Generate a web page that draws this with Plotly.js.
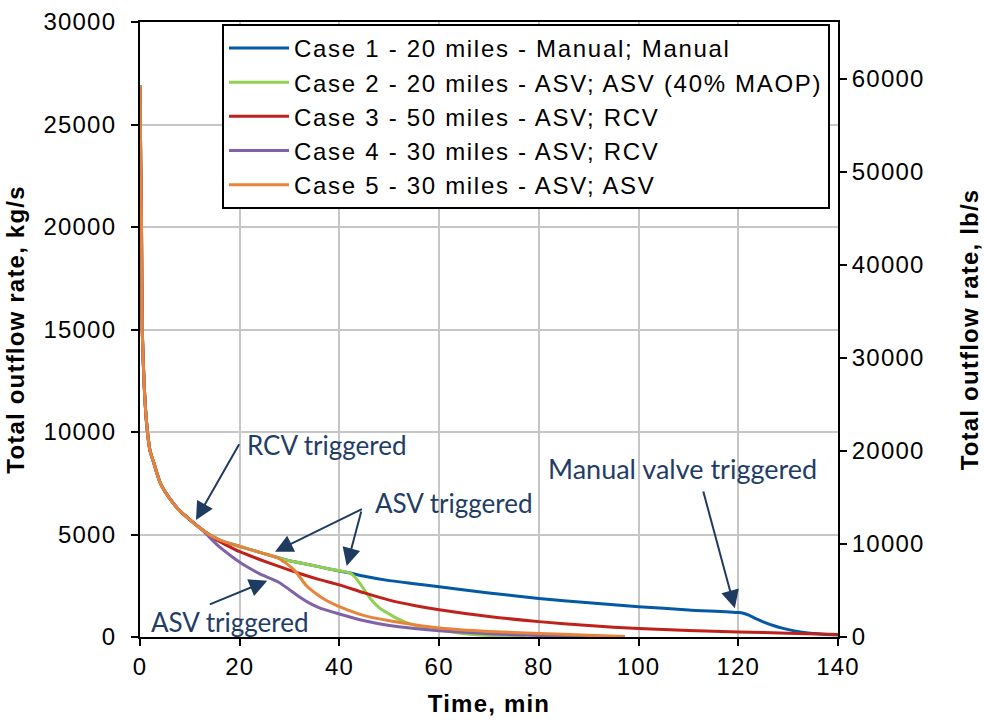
<!DOCTYPE html>
<html>
<head>
<meta charset="utf-8">
<script src="https://cdn.plot.ly/plotly-3.0.1.min.js"></script>
<style>
html,body{margin:0;padding:0;background:#fff;}
#chart{width:985px;height:721px;}
.xtick text, .ytick text, .y2tick text, .xtitle, .ytitle, .y2title {letter-spacing:1.2px;}
.legendtext {letter-spacing:1.7px;}
</style>
</head>
<body>
<div id="chart"></div>
<script>
// ---- data (time in min, outflow in kg/s) ----
const seriesNames = [
  "Case 1 - 20 miles - Manual; Manual",
  "Case 2 - 20 miles - ASV; ASV (40% MAOP)",
  "Case 3 - 50 miles - ASV; RCV",
  "Case 4 - 30 miles - ASV; RCV",
  "Case 5 - 30 miles - ASV; ASV"
];
const seriesColors = ["#0459A6", "#92D050", "#C0211A", "#8062A8", "#E8843A"];

// shared initial blowdown
const tCommon = [0, 0.15, 0.3, 0.45, 0.8, 1.3, 2, 2.7, 4, 5, 6.7, 8, 9.4, 11, 12.5];
const vCommon = [26900, 23000, 20000, 15000, 12500, 10500, 9100, 8550, 7550, 7100, 6520, 6150, 5850, 5520, 5230];

// shared upper branch (cases 1, 2, 5)
const tUpper = [14, 16, 20, 24, 27.5];
const vUpper = [4980, 4730, 4420, 4130, 3880];

// cases 1 and 2 together until ~42 min
const tMid = [30, 34, 38, 42.2];
const vMid = [3720, 3520, 3320, 3120];

const tCase1Tail = [45, 50, 55, 60, 70, 80, 90, 100, 110, 120, 121, 122, 123.5, 125, 127, 129, 131, 134, 137, 140];
const vCase1Tail = [2960, 2750, 2600, 2450, 2150, 1880, 1670, 1480, 1320, 1190, 1160, 1080, 900, 740, 560, 420, 310, 200, 140, 100];

const tCase2Tail = [43, 44.1, 45, 46.1, 48.1, 50, 51.5, 54.8, 60, 64, 68.2, 72, 77.2];
const vCase2Tail = [2950, 2620, 2300, 1900, 1400, 1120, 910, 590, 340, 200, 100, 50, 0];

const tCase3Tail = [14, 16, 20, 24, 28, 32, 36, 40, 45, 50, 55, 60, 70, 80, 90, 100, 110, 120, 130, 140];
const vCase3Tail = [4900, 4650, 4160, 3780, 3430, 3100, 2800, 2540, 2150, 1800, 1540, 1330, 1000, 750, 560, 410, 320, 250, 180, 120];

const tCase4Tail = [14, 16, 18, 20, 22, 24, 26.7, 28, 30, 32, 34, 36, 40, 45, 50, 55, 60, 70, 80, 90, 97];
const vCase4Tail = [4850, 4380, 4000, 3650, 3350, 3080, 2800, 2650, 2300, 1950, 1650, 1420, 1120, 790, 560, 420, 310, 160, 70, 30, 10];

const tCase5Tail = [28.5, 29.4, 31, 33.4, 35.4, 37.4, 40, 45, 50, 55, 60, 70, 80, 90, 97.3];
const vCase5Tail = [3720, 3580, 3250, 2500, 2100, 1780, 1480, 1040, 790, 600, 440, 270, 175, 90, 30];

const xTicks = [0, 20, 40, 60, 80, 100, 120, 140];
const yTicksKg = [0, 5000, 10000, 15000, 20000, 25000, 30000];
const yTicksLb = [0, 10000, 20000, 30000, 40000, 50000, 60000];
const kgToLb = 2.20462;

// ---- assemble series ----
const seriesT = [
  tCommon.concat(tUpper, tMid, tCase1Tail),
  tCommon.concat(tUpper, tMid, tCase2Tail),
  tCommon.concat(tCase3Tail),
  tCommon.concat(tCase4Tail),
  tCommon.concat(tUpper, tCase5Tail)
];
const seriesV = [
  vCommon.concat(vUpper, vMid, vCase1Tail),
  vCommon.concat(vUpper, vMid, vCase2Tail),
  vCommon.concat(vCase3Tail),
  vCommon.concat(vCase4Tail),
  vCommon.concat(vUpper, vCase5Tail)
];

const traces = seriesNames.map((n, i) => ({
  x: seriesT[i], y: seriesV[i], name: n, type: 'scatter', mode: 'lines',
  line: {color: seriesColors[i], width: 3, shape: 'spline', smoothing: 0.6},
  hoverinfo: 'skip'
}));
traces.push({x: [0, 140], y: [0, 0], yaxis: 'y2', mode: 'lines', line: {width: 0},
  opacity: 0, showlegend: false, hoverinfo: 'skip'});

const tickFont = {family: 'Arial, "Liberation Sans", sans-serif', size: 24, color: '#000'};
const titleFont = {family: 'Arial, "Liberation Sans", sans-serif', size: 24, color: '#000', weight: 'bold'};
const noteFont = {family: 'Lato, "Noto Sans", sans-serif', size: 26, color: '#1F3D66'};
const arrowColor = '#203B60';

// annotation definitions
const noteTexts = ['RCV triggered', 'ASV triggered', 'ASV triggered', 'Manual valve triggered'];
const noteX = [37.5, 62.8, 18.05, 108.9];
const noteY = [9366, 6537, 746, 8244];
const noteSizes = [26, 26, 26, 27];
// arrows: tail (ax, ay) -> head (x, y)
const arrowTailX = [20.06, 44.8, 44.46, 13.7, 112.9];
const arrowTailY = [9478, 6278, 6195, 1561, 7171];
const arrowHeadX = [11.23, 27.08, 41.46, 25.53, 119.3];
const arrowHeadY = [5707, 4161, 3463, 2746, 1400];

const annotations = [];
noteTexts.forEach((t, i) => annotations.push({
  x: noteX[i], y: noteY[i], xref: 'x', yref: 'y', text: t, showarrow: false,
  font: Object.assign({}, noteFont, {size: noteSizes[i]}), xanchor: 'center', yanchor: 'middle'
}));
arrowHeadX.forEach((hx, i) => annotations.push({
  x: hx, y: arrowHeadY[i], ax: arrowTailX[i], ay: arrowTailY[i],
  xref: 'x', yref: 'y', axref: 'x', ayref: 'y', text: '', showarrow: true,
  arrowhead: 2, arrowsize: 1.8, arrowwidth: 2, arrowcolor: arrowColor, standoff: 0
}));

const layout = {
  width: 985, height: 721,
  margin: {l: 140, r: 147, t: 22, b: 84, pad: 0},
  paper_bgcolor: '#fff', plot_bgcolor: '#fff',
  showlegend: true,
  legend: {
    x: 0.1175, y: 0.997, xanchor: 'left', yanchor: 'top',
    bgcolor: '#fff', bordercolor: '#000', borderwidth: 2,
    font: {family: 'Arial, "Liberation Sans", sans-serif', size: 24, color: '#000'},
    itemwidth: 60, tracegroupgap: 0
  },
  xaxis: {
    range: [0, 140], tickvals: xTicks, ticktext: xTicks.map(String),
    ticks: 'outside', ticklen: 7, tickwidth: 2, tickcolor: '#000',
    showline: true, linecolor: '#000', linewidth: 2, mirror: true,
    showgrid: true, gridcolor: '#C6C6C6', gridwidth: 2, zeroline: false,
    tickfont: tickFont,
    title: {text: 'Time, min', font: titleFont, standoff: 16}
  },
  yaxis: {
    range: [0, 30000], tickvals: yTicksKg, ticktext: yTicksKg.map(String),
    ticks: 'outside', ticklen: 7, tickwidth: 2, tickcolor: '#000',
    ticklabelstandoff: 10,
    showline: true, linecolor: '#000', linewidth: 2,
    showgrid: true, gridcolor: '#C6C6C6', gridwidth: 2, zeroline: false,
    tickfont: tickFont,
    title: {text: 'Total outflow rate, kg/s', font: titleFont, standoff: 12}
  },
  yaxis2: {
    overlaying: 'y', side: 'right', range: [0, 30000 * kgToLb],
    tickvals: yTicksLb, ticktext: yTicksLb.map(String),
    ticks: 'outside', ticklen: 7, tickwidth: 2, tickcolor: '#000',
    showline: true, linecolor: '#000', linewidth: 2,
    showgrid: false, zeroline: false, tickfont: tickFont,
    title: {text: 'Total outflow rate, lb/s', font: titleFont, standoff: 38}
  },
  annotations: annotations
};

Plotly.newPlot('chart', traces, layout, {staticPlot: true, displayModeBar: false});
</script>
</body>
</html>
